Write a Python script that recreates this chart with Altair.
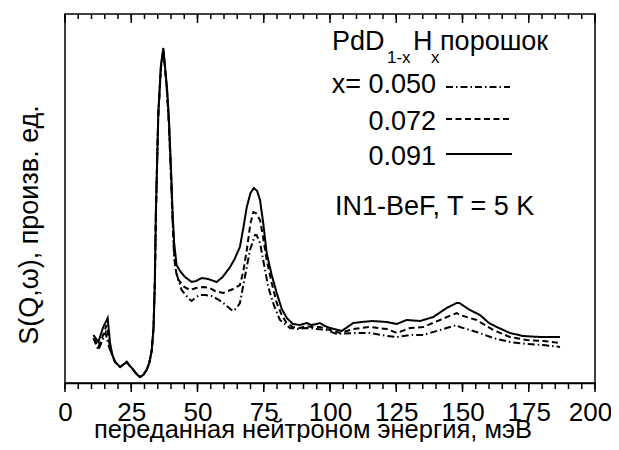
import altair as alt
import pandas as pd

# ---- data (y in arbitrary units) ----
E_050 = [10.7,12.6,14.0,15.3,16.6,17.5,18.9,20.8,22.3,23.3,24.2,25.2,27.0,28.3,29.5,30.8,31.8,32.7,33.4,33.9,34.3,35.2,36.2,37.1,37.8,38.5,39.2,40.0,40.6,41.2,42.0,44.0,46.5,47.8,49.5,50.9,53.0,55.3,57.5,59.7,61.5,63.3,64.8,66.0,67.3,68.6,69.8,71.7,72.3,73.6,75.0,76.7,78.8,81.1,84.9,88.0,91.2,95.0,98.7,102.5,108.8,115.0,121.4,125.2,130.2,135.2,141.5,147.8,149.0,155.3,161.6,167.9,174.2,180.5,186.8]
S_050 = [45,33,42,50,36,30,21,16,19,21,18,15,9,6,8,13,20,32,55,100,170,266,315,333,314,290,258,205,160,125,110,93,85,82,86,88,88,87,84,80,76,72,75,80,98,116,133,148,148,140,120,96,78,63,55,54,55,54,53,49,50,50,47,46,48,48,53,58,56,51,45,41,39,38,36]

E_072 = [10.7,11.3,12.6,14.0,15.7,16.6,17.5,18.9,20.8,22.3,23.3,24.2,25.2,27.0,28.3,29.5,30.8,31.8,32.7,33.4,33.9,34.3,35.2,36.2,37.1,37.8,38.5,39.2,40.0,40.6,41.2,42.0,42.8,45.0,47.2,49.5,52.2,54.5,56.6,59.7,61.5,63.5,66.0,67.3,68.6,70.0,71.1,72.0,73.6,74.8,76.1,78.0,79.9,81.8,83.6,86.0,88.7,91.2,93.0,96.2,100.0,103.8,108.8,115.0,121.4,125.2,130.2,135.2,141.5,147.8,149.0,155.3,161.6,167.9,174.2,180.5,186.8]
S_072 = [44,43,36,45,58,42,30,21,16,19,21,18,15,9,6,8,13,20,32,55,100,170,268,316,332,312,292,262,210,165,130,110,103,96,93,95,96,95,92,90,92,94,98,112,133,160,171,170,163,145,123,100,80,68,60,56,55,57,56,56,53,50,54,56,54,50,55,56,63,70,68,63,53,46,43,42,40]

E_091 = [10.7,12.6,14.3,16.1,17.0,17.9,18.9,20.8,22.3,23.3,24.2,25.2,27.0,28.3,29.5,30.8,31.8,32.7,33.4,33.9,34.3,35.2,36.2,37.1,37.8,38.5,39.2,40.0,40.6,41.2,42.1,43.4,45.3,47.8,49.5,51.6,54.0,57.2,59.5,62.3,64.0,66.0,67.3,68.6,70.0,71.3,72.5,73.6,74.8,76.1,78.0,79.9,81.8,83.7,86.0,88.7,91.2,93.0,95.0,96.2,98.0,100.0,104.4,108.8,112.0,116.0,121.4,125.2,128.9,134.0,139.0,144.0,147.8,148.8,152.8,156.6,160.0,162.9,167.9,172.9,179.2,186.8]
S_091 = [48,41,55,65,40,28,21,16,19,21,18,15,9,6,8,13,20,32,55,100,170,270,318,335,315,295,265,215,170,140,118,112,106,101,102,105,104,101,106,116,124,136,155,176,190,195,192,183,160,130,108,90,74,65,59,58,60,58,59,60,57,55,52,60,61,62,61,59,63,62,66,75,80,80,73,68,60,56,50,47,46,46]

SERIES = ["0.050", "0.072", "0.091"]
DASHES = [[7, 3, 1.5, 3], [6, 3.5], [1, 0]]
TICK_LABELS = [0, 25, 50, 75, 100, 125, 150, 175, 200]
MINOR_TICKS = list(range(0, 201, 5))

X_TITLE = "переданная нейтроном энергия, мэВ"
Y_TITLE = "S(Q,ω), произв. ед."

FONT = "Liberation Sans"

rows = []
for name, E, S in [("0.050", E_050, S_050), ("0.072", E_072, S_072), ("0.091", E_091, S_091)]:
    for e, s in zip(E, S):
        rows.append({"E": e, "S": s, "x": name})
df = pd.DataFrame(rows)

xs = alt.Scale(domain=[0, 200], nice=False, zero=False)
ys = alt.Scale(domain=[0, 369], nice=False, zero=False)

curves = alt.Chart(df).mark_line(strokeWidth=2, color="black").encode(
    x=alt.X("E:Q", scale=xs, axis=alt.Axis(
        values=TICK_LABELS, ticks=False, tickSize=0, grid=False, domain=True,
        domainColor="black", domainWidth=1.5, labelFont=FONT, labelFontSize=26,
        labelColor="black", labelPadding=16, labelFlush=False, title=None,
        labelOffset=alt.condition("datum.value == 200", alt.value(-5), alt.value(0)))),
    y=alt.Y("S:Q", scale=ys, axis=None),
    strokeDash=alt.StrokeDash("x:N", scale=alt.Scale(domain=SERIES, range=DASHES), legend=None),
    detail="x:N",
    order="E:Q",
)

minor_df = pd.DataFrame({"E": MINOR_TICKS})
major_df = pd.DataFrame({"E": TICK_LABELS})

def ticks(data, y0, y1):
    return alt.Chart(data).mark_rule(color="black", strokeWidth=1.5).encode(
        x=alt.X("E:Q", scale=xs), y=alt.value(y0), y2=alt.value(y1))

top_minor = ticks(minor_df, 0, 5)
top_major = ticks(major_df, 0, 9)
bot_minor = ticks(minor_df, 369, 375)
bot_major = ticks(major_df, 369, 378)

x_title = alt.Chart(pd.DataFrame({"t": [X_TITLE]})).mark_text(
    font=FONT, fontSize=25.5, align="center", baseline="alphabetic", color="black"
).encode(text="t:N", x=alt.value(248), y=alt.value(424))

y_title = alt.Chart(pd.DataFrame({"t": [Y_TITLE]})).mark_text(
    font=FONT, fontSize=27, align="center", baseline="middle", angle=270, color="black"
).encode(text="t:N", x=alt.value(-35), y=alt.value(211))

# legend block (annotation)
leg_left = pd.DataFrame({
    "t": ["PdD", "1-x", "H", "x", "порошок", "IN1-BeF, T = 5 K"],
    "px": [267, 322, 348, 366, 375, 270],
    "py": [36, 49, 36, 49, 36, 201],
    "fs": [27, 17, 27, 17, 27, 27],
})
leg_right = pd.DataFrame({
    "t": ["x= 0.050", "0.072", "0.091"],
    "px": [371, 371, 371],
    "py": [79, 116, 151],
    "fs": [27, 27, 27],
})

def leg_text(data, align):
    return alt.Chart(data).mark_text(font=FONT, align=align, baseline="alphabetic", color="black").encode(
        text="t:N",
        x=alt.X("px:Q", scale=None),
        y=alt.Y("py:Q", scale=None),
        size=alt.Size("fs:Q", scale=None, legend=None),
    )

samples = alt.Chart(pd.DataFrame({
    "x": SERIES, "x0": [381, 381, 381], "x1": [445, 445, 447], "yy": [73, 105, 140]
})).mark_rule(color="black", strokeWidth=2).encode(
    x=alt.X("x0:Q", scale=None), x2="x1:Q", y=alt.Y("yy:Q", scale=None),
    strokeDash=alt.StrokeDash("x:N", scale=alt.Scale(domain=SERIES, range=DASHES), legend=None),
)

chart = alt.layer(
    curves, top_minor, top_major, bot_minor, bot_major,
    x_title, y_title, leg_text(leg_left, "left"), leg_text(leg_right, "right"), samples
).properties(
    width=530, height=369,
    autosize=alt.AutoSizeParams(type="none"),
    padding={"left": 57, "top": 6, "right": 16, "bottom": 59},
    background="white",
).configure_view(stroke="black", strokeWidth=1.5)

chart.save("out.html", embed_options={"renderer": "svg", "actions": False})
